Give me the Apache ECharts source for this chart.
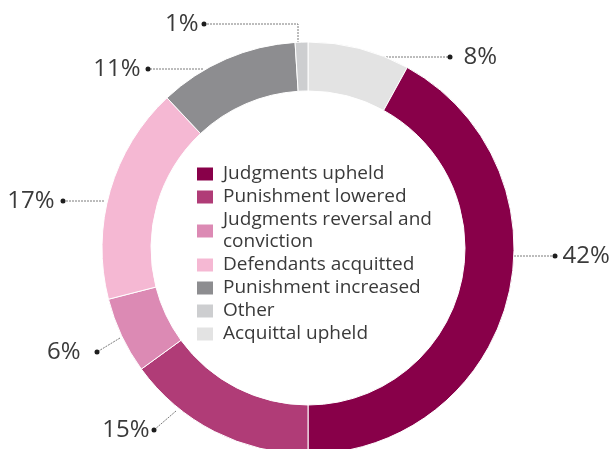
<!DOCTYPE html>
<html>
<head>
<meta charset="utf-8">
<script src="https://cdn.jsdelivr.net/npm/echarts@6/dist/echarts.min.js"></script>
<style>
  html, body { margin: 0; padding: 0; background: #ffffff; }
  #chart { width: 615px; height: 449px; }
</style>
</head>
<body>
<div id="chart"></div>
<script>
// ---- data ----
const categories = [
  'Judgments upheld',
  'Punishment lowered',
  'Judgments reversal and conviction',
  'Defendants acquitted',
  'Punishment increased',
  'Other',
  'Acquittal upheld'
];
const shares = [42, 15, 6, 17, 11, 1, 8];
// clockwise order of slices starting at 12 o'clock (indices into categories)
const sliceOrder = [6, 0, 1, 2, 3, 4, 5];

// ---- styles ----
const sliceColors = {
  'Judgments upheld': '#880049',
  'Punishment lowered': '#B03C77',
  'Judgments reversal and conviction': '#DC8AB4',
  'Defendants acquitted': '#F5B8D3',
  'Punishment increased': '#8D8D90',
  'Other': '#CDCED0',
  'Acquittal upheld': '#E3E3E3'
};

// label placement (layout only): dot position, side, gap between dot and text, leader line path
const labelSpec = {
  'Acquittal upheld':                  { side: 'right', dot: [450, 57],  gap: 11, line: [[380, 57], [450, 57]] },
  'Judgments upheld':                  { side: 'right', dot: [555, 256], gap: 5,  line: [[514, 256], [555, 256]] },
  'Punishment lowered':                { side: 'left',  dot: [154, 430], gap: 2,  line: [[176, 411], [154, 430]] },
  'Judgments reversal and conviction': { side: 'left',  dot: [97, 352],  gap: 14, line: [[120, 338], [97, 352]] },
  'Defendants acquitted':              { side: 'left',  dot: [63, 201],  gap: 6,  line: [[104, 201], [63, 201]] },
  'Punishment increased':              { side: 'left',  dot: [148, 69],  gap: 5,  line: [[203, 69], [148, 69]] },
  'Other':                             { side: 'left',  dot: [204, 24],  gap: 3,  line: [[298, 43], [298, 24], [204, 24]] }
};
const DOT_R = 2.5;

const pieData = sliceOrder.map(i => ({
  name: categories[i],
  value: shares[i],
  itemStyle: { color: sliceColors[categories[i]] }
}));

const rich = {
  v: { fontSize: 24, color: '#3a3a3a', fontFamily: 'Open Sans', verticalAlign: 'middle' },
  dot: { width: DOT_R * 2, height: DOT_R * 2, borderRadius: DOT_R, backgroundColor: '#1e1e1e', verticalAlign: 'middle' }
};
pieData.forEach((d, i) => { rich['g' + i] = { width: labelSpec[d.name].gap, height: 2 }; });

const chart = echarts.init(document.getElementById('chart'), null, { renderer: 'canvas' });
chart.setOption({
  animation: false,
  backgroundColor: '#ffffff',
  legend: {
    orient: 'vertical',
    left: 195,
    top: 163,
    padding: 0,
    itemWidth: 18,
    itemHeight: 15,
    itemGap: 1,
    icon: 'rect',
    selectedMode: false,
    data: categories,
    formatter: name => name === 'Judgments reversal and conviction' ? 'Judgments reversal and\nconviction' : name,
    textStyle: {
      fontFamily: 'Open Sans',
      fontSize: 19,
      lineHeight: 22,
      color: '#3a3a3a',
      padding: [0, 0, 0, 4]
    }
  },
  series: [{
    type: 'pie',
    center: [308, 248],
    radius: [157, 206],
    startAngle: 90,
    clockwise: true,
    avoidLabelOverlap: false,
    silent: true,
    itemStyle: { borderColor: '#ffffff', borderWidth: 1 },
    emphasis: { disabled: true },
    label: {
      show: true,
      position: 'outside',
      formatter: p => {
        const s = labelSpec[p.name];
        return s.side === 'right'
          ? '{dot|}{g' + p.dataIndex + '|}{v|' + p.value + '%}'
          : '{v|' + p.value + '%}{g' + p.dataIndex + '|}{dot|}';
      },
      rich: rich
    },
    labelLine: {
      show: true,
      length: 10,
      length2: 10,
      lineStyle: { color: '#7a7a7a', width: 1, type: [2, 1] }
    },
    labelLayout: params => {
      const s = labelSpec[pieData[params.dataIndex].name];
      return {
        x: s.side === 'right' ? s.dot[0] - DOT_R : s.dot[0] + DOT_R,
        y: s.dot[1],
        align: s.side === 'right' ? 'left' : 'right',
        verticalAlign: 'middle',
        labelLinePoints: s.line
      };
    },
    data: pieData
  }]
});
</script>
</body>
</html>
